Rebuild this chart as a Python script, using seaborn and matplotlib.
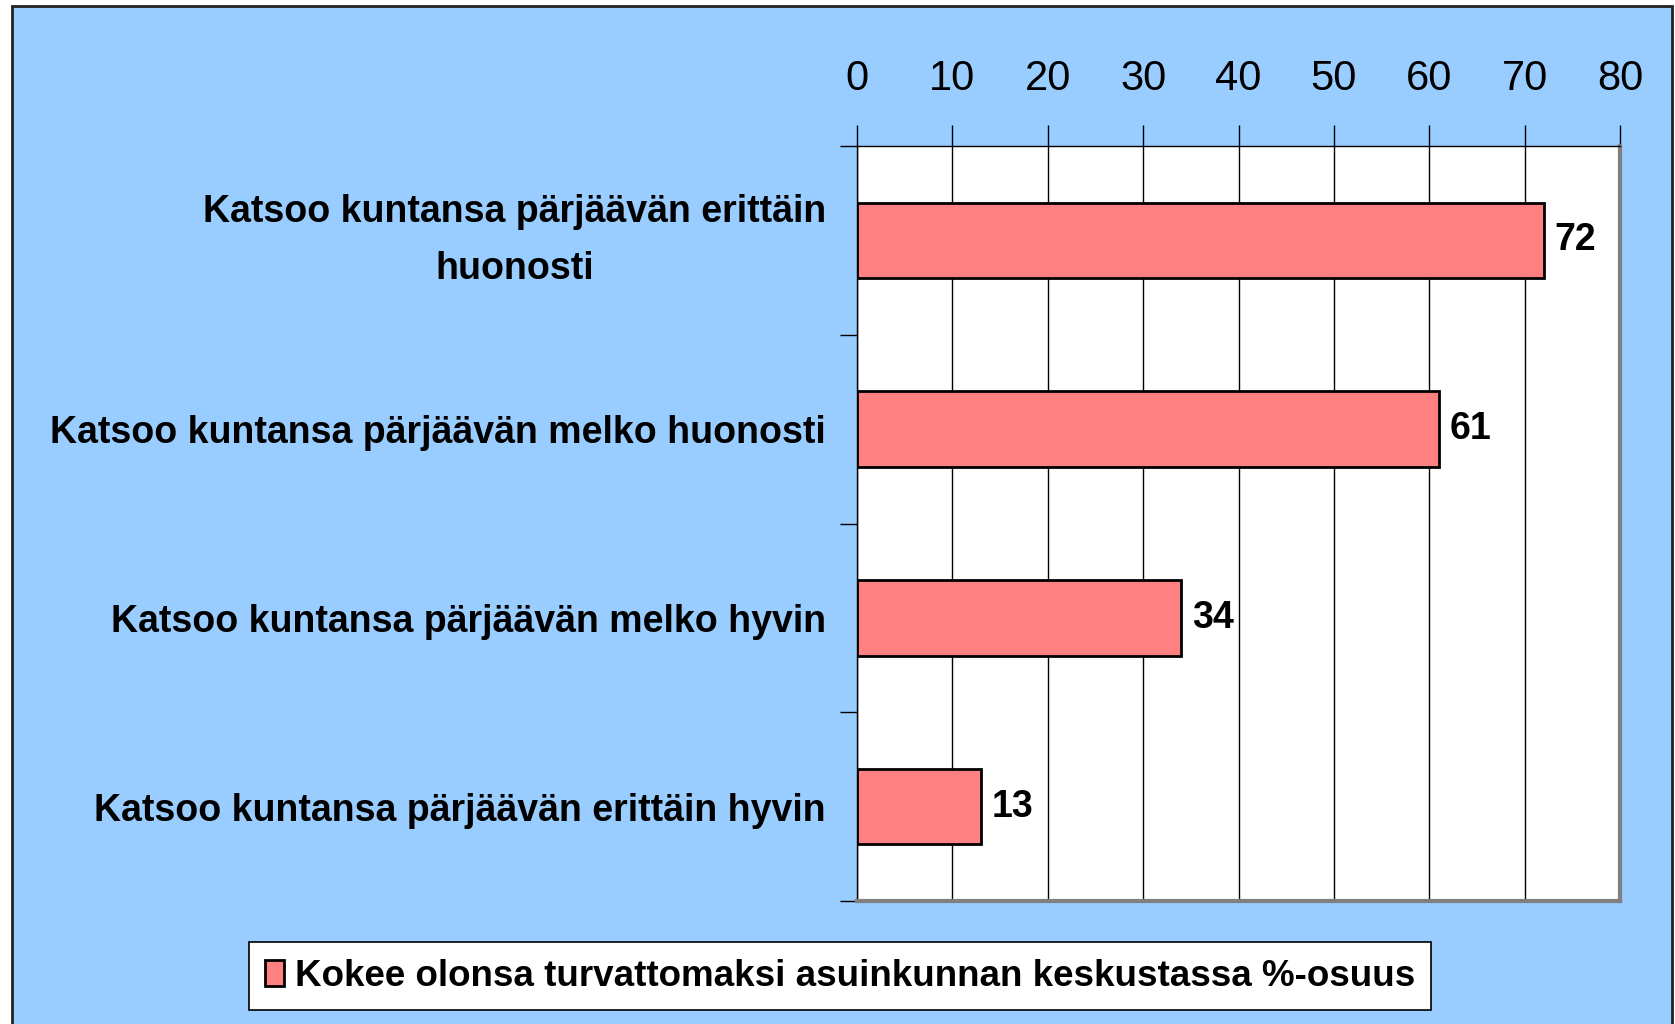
import numpy as np
import pandas as pd
import matplotlib
matplotlib.use("Agg")
import matplotlib.pyplot as plt
import seaborn as sns
from matplotlib.patches import Rectangle, Patch

categories = [
    "Katsoo kuntansa pärjäävän erittäin\nhuonosti",
    "Katsoo kuntansa pärjäävän melko huonosti",
    "Katsoo kuntansa pärjäävän melko hyvin",
    "Katsoo kuntansa pärjäävän erittäin hyvin",
]
values = [72, 61, 34, 13]
series_name = "Kokee olonsa turvattomaksi asuinkunnan keskustassa %-osuus"
x_ticks = [0, 10, 20, 30, 40, 50, 60, 70, 80]

sns.set_style("white")
fonts = ["Liberation Sans Narrow", "Liberation Sans", "DejaVu Sans"]
plt.rcParams["font.family"] = fonts
plt.rcParams["text.color"] = "black"
plt.rcParams["xtick.color"] = "black"
plt.rcParams["ytick.color"] = "black"

W, H = 1675, 1024
fig = plt.figure(figsize=(W / 100, H / 100), dpi=100)
fig.patch.set_facecolor("white")

# blue chart background with dark frame
bg = Rectangle((12 / W, -0.05), (1672 - 12) / W, 1.05 - 6 / H,
               transform=fig.transFigure, facecolor="#99CCFF",
               edgecolor="#222222", lw=2, zorder=-10)
fig.patches.append(bg)

left, right, top, bottom = 857, 1620, 146, 901
ax = fig.add_axes([left / W, 1 - bottom / H, (right - left) / W, (bottom - top) / H])
ax.set_facecolor("white")

df = pd.DataFrame({"cat": categories, "val": values})
sns.barplot(data=df, x="val", y="cat", orient="h", color="#FF8080", width=0.4,
            edgecolor="black", linewidth=2, saturation=1, ax=ax, zorder=3)

ax.set_xlim(0, 80)
ax.set_ylim(3.5, -0.5)
ax.set_xticks(x_ticks)
ax.xaxis.tick_top()
ax.tick_params(axis="x", top=True, bottom=False, length=15, width=1,
               pad=19, labelsize=30)
ax.set_yticks([-0.5, 0.5, 1.5, 2.5, 3.5])
ax.set_yticklabels([])
ax.tick_params(axis="y", left=True, length=12, width=1)
ax.set_yticks(range(len(categories)), minor=True)
ax.set_yticklabels(categories, minor=True, fontweight="bold", fontsize=27,
                   ha="center", linespacing=1.75)
ax.tick_params(axis="y", which="minor", length=0, pad=0)
ax.set_xlabel("")
ax.set_ylabel("")

ax.grid(axis="x", color="black", lw=1, zorder=1)
ax.grid(axis="y", visible=False)
for s in ["left", "top"]:
    ax.spines[s].set_color("black")
    ax.spines[s].set_linewidth(1)
for s in ["right", "bottom"]:
    ax.spines[s].set_color("#808080")
    ax.spines[s].set_linewidth(3)

for i, v in enumerate(values):
    ax.annotate(str(v), (v, i), xytext=(8, 0), textcoords="offset points",
                va="center", ha="left", fontsize=27, fontweight="bold", zorder=4)

fig.canvas.draw()
# right-align the category labels 31px left of the axis, centre the wrapped lines
for lab in ax.get_yticklabels(minor=True):
    lab.set_horizontalalignment("right")
    lab.set_multialignment("center")
    lab.set_x(-31 / (right - left))
    if "\n" in lab.get_text():
        lab.set_verticalalignment("center")

handle = Patch(facecolor="#FF8080", edgecolor="black", linewidth=2)
leg = fig.legend([handle], [series_name], loc="center",
                 bbox_to_anchor=(840 / W, 1 - 976 / H), frameon=True,
                 fancybox=False, edgecolor="black", framealpha=1,
                 prop={"weight": "bold", "size": 26.5, "family": fonts},
                 handlelength=0.5, handleheight=0.7, handletextpad=0.3,
                 borderpad=0.45, borderaxespad=0)
leg.get_frame().set_linewidth(1.2)

fig.savefig("out.png", dpi=100, facecolor=fig.get_facecolor())
